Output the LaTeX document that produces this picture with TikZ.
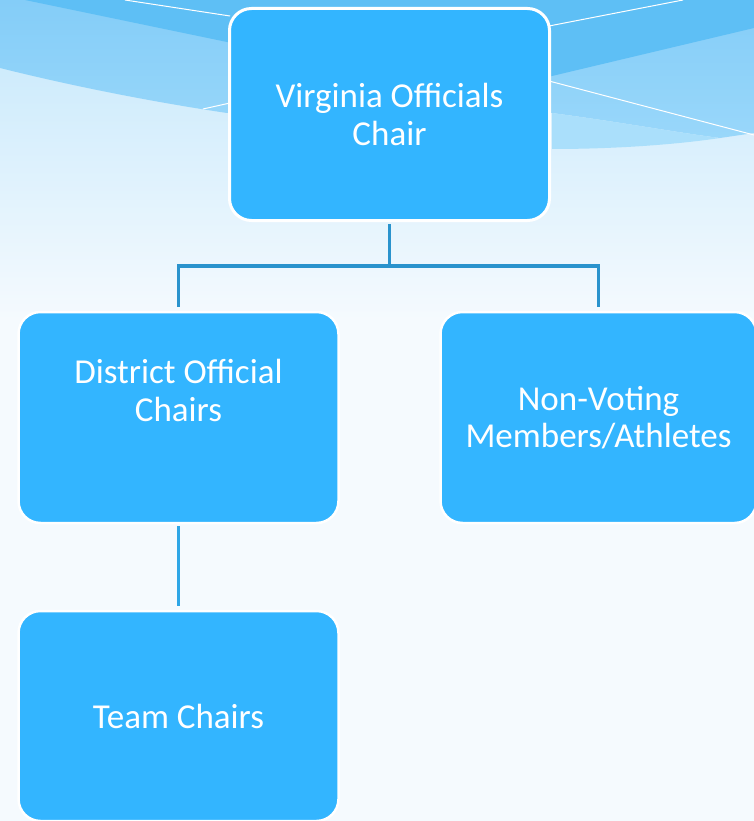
\documentclass[tikz,border=0pt]{standalone}
\usepackage{fontspec}
\setmainfont{Carlito}
\definecolor{boxblue}{HTML}{33B5FF}
\definecolor{linkblue}{HTML}{2A93CD}
\definecolor{linkblue2}{HTML}{2EA6E6}
\definecolor{bgtop}{HTML}{CDEBFC}
\definecolor{bgbottom}{HTML}{F5FAFE}
\definecolor{darkwave}{HTML}{5EBFF5}
\definecolor{midtop}{HTML}{84CDF8}
\definecolor{midbot}{HTML}{99D7FA}
\definecolor{bandblue}{HTML}{AADFFB}
\begin{document}
\begin{tikzpicture}[x=1pt,y=-1pt,
  box/.style={rectangle, rounded corners=22pt, fill=boxblue, draw=white, line width=2.5pt,
    text=white, align=center, font=\fontsize{35}{37.7}\selectfont, inner sep=0pt},
  boxtext/.style={text=white, align=center, font=\fontsize{35}{37.7}\selectfont, inner sep=0pt},
  conn/.style={draw=linkblue, line width=3.8pt},
  conntwo/.style={draw=linkblue2, line width=3.5pt},
  wline/.style={draw=white, line width=1pt}]
\useasboundingbox (0,0) rectangle (754,821);
% background
\fill[bgbottom] (0,0) rectangle (754,821);
\shade[top color=bgtop, bottom color=bgbottom] (0,60) rectangle (754,320);
% waves
\shade[top color=midtop, bottom color=midbot]
  (0,0) -- (0,68) .. controls (80,88) and (160,103) .. (227,113) -- (552,113)
  .. controls (620,122) and (680,133) .. (720,138) -- (754,133) -- (754,0) -- cycle;
\fill[bandblue] (552,113) .. controls (620,122) and (680,133) .. (720,138)
  .. controls (680,144) and (620,149) .. (552,149) -- cycle;
\fill[darkwave] (25,0) -- (227,42) -- (390,80) -- (552,76) -- (754,28) -- (754,0) -- cycle;
\draw[wline] (125,0) -- (230,16);
\draw[wline] (203,109) -- (230,103);
\draw[wline] (549,26) -- (683,0);
\draw[wline] (549,81) -- (754,135);
% boxes
\node[box, minimum width=320pt, minimum height=212pt, line width=3pt] (top) at (389.5,114.5) {Virginia Officials\\Chair};
\node[box, minimum width=320pt, minimum height=211pt] (dist) at (178.5,417.5) {};
\node[boxtext] (distlabel) at (178.5,390.5) {District Official\\Chairs};
\node[box, minimum width=316pt, minimum height=211pt] (nv) at (598.5,417.5) {Non-Voting\\Members/Athletes};
\node[box, minimum width=320pt, minimum height=210pt] (team) at (178.5,716) {Team Chairs};
% connectors
\draw[conn] ([yshift=-2pt]top.south) -- ++(0,42) coordinate (mid) -| ([yshift=4pt]dist.north);
\draw[conn] (mid) -| ([yshift=4pt]nv.north);
\draw[conntwo] ([yshift=-2pt]dist.south) -- ([yshift=4pt]team.north);
\end{tikzpicture}
\end{document}
